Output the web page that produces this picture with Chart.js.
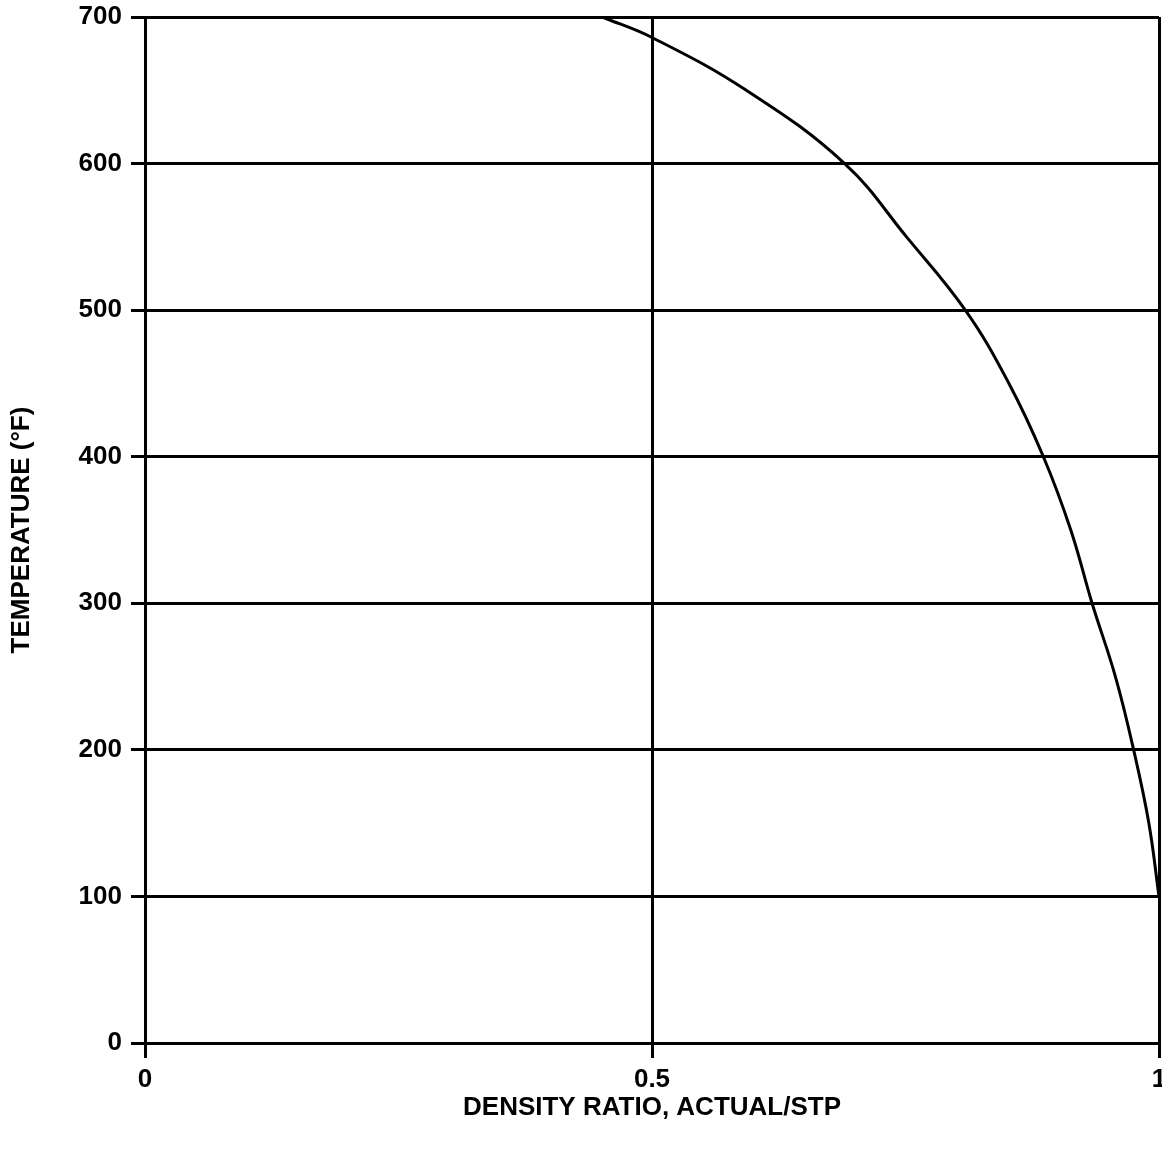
<!DOCTYPE html>
<html lang="en">
<head>
	<meta charset="UTF-8"/>
	<title>Density Ratio vs Temperature</title>
	<script src="https://cdn.jsdelivr.net/npm/chart.js"></script>
	<style>
		html, body { margin: 0; padding: 0; background: #fff; }
		#wrap { width: 1162px; height: 1149px; }
	</style>
	<script>
		// values, ordered by density
		const density = [0.451, 0.500, 0.593, 0.690, 0.751, 0.809, 0.852, 0.886, 0.913, 0.934, 0.957, 0.975, 0.990, 1.0];
		const temperature = [700, 686, 650, 600, 550, 500, 450, 400, 350, 300, 250, 200, 150, 100];
		const xTicks = [0, 0.5, 1];
		const yTicks = [0, 100, 200, 300, 400, 500, 600, 700];

		const fontFamily = "'Liberation Sans', Arial, sans-serif";

		window.addEventListener("load", function() {
			const points = density.map((d, i) => ({ x: d, y: temperature[i] }));
			const ctx = document.getElementById("densityChart").getContext("2d");
			new Chart(ctx, {
				type: 'scatter',
				data: {
					datasets: [{
						data: points,
						showLine: true,
						borderColor: '#000',
						borderWidth: 3,
						pointRadius: 0,
						tension: 0.4,
						fill: false
					}]
				},
				options: {
					responsive: false,
					animation: false,
					layout: { padding: { left: 0, top: 17, right: 3, bottom: 0 } },
					plugins: { legend: { display: false }, tooltip: { enabled: false } },
					scales: {
						x: {
							type: 'linear',
							min: 0,
							max: 1,
							afterBuildTicks: scale => { scale.ticks = xTicks.map(v => ({ value: v })); },
							afterFit: scale => { scale.height = 106; scale.paddingLeft = 0; scale.paddingRight = 0; },
							ticks: {
								color: '#000',
								padding: 6,
								maxRotation: 0,
								font: { family: fontFamily, size: 26, weight: 'bold' },
								callback: v => String(v)
							},
							grid: { color: '#000', lineWidth: 3, tickLength: 15, drawTicks: true },
							border: { color: '#000', width: 3 },
							title: {
								display: true,
								text: 'DENSITY RATIO, ACTUAL/STP',
								color: '#000',
								padding: { top: 0, bottom: 26 },
								font: { family: fontFamily, size: 26, weight: 'bold' }
							}
						},
						y: {
							type: 'linear',
							min: 0,
							max: 700,
							afterBuildTicks: scale => { scale.ticks = yTicks.map(v => ({ value: v })); },
							afterFit: scale => { scale.width = 145; scale.paddingTop = 0; scale.paddingBottom = 0; },
							ticks: {
								color: '#000',
								padding: 9,
								font: { family: fontFamily, size: 26, weight: 'bold' }
							},
							grid: { color: '#000', lineWidth: 3, tickLength: 14 },
							border: { color: '#000', width: 3 },
							title: {
								display: true,
								text: 'TEMPERATURE (°F)',
								color: '#000',
								padding: { top: 6, bottom: 0 },
								font: { family: fontFamily, size: 26, weight: 'bold' }
							}
						}
					}
				}
			});
		}, false);
	</script>
</head>
<body>
	<div id="wrap">
		<canvas id="densityChart" width="1162" height="1149"></canvas>
	</div>
</body>
</html>
